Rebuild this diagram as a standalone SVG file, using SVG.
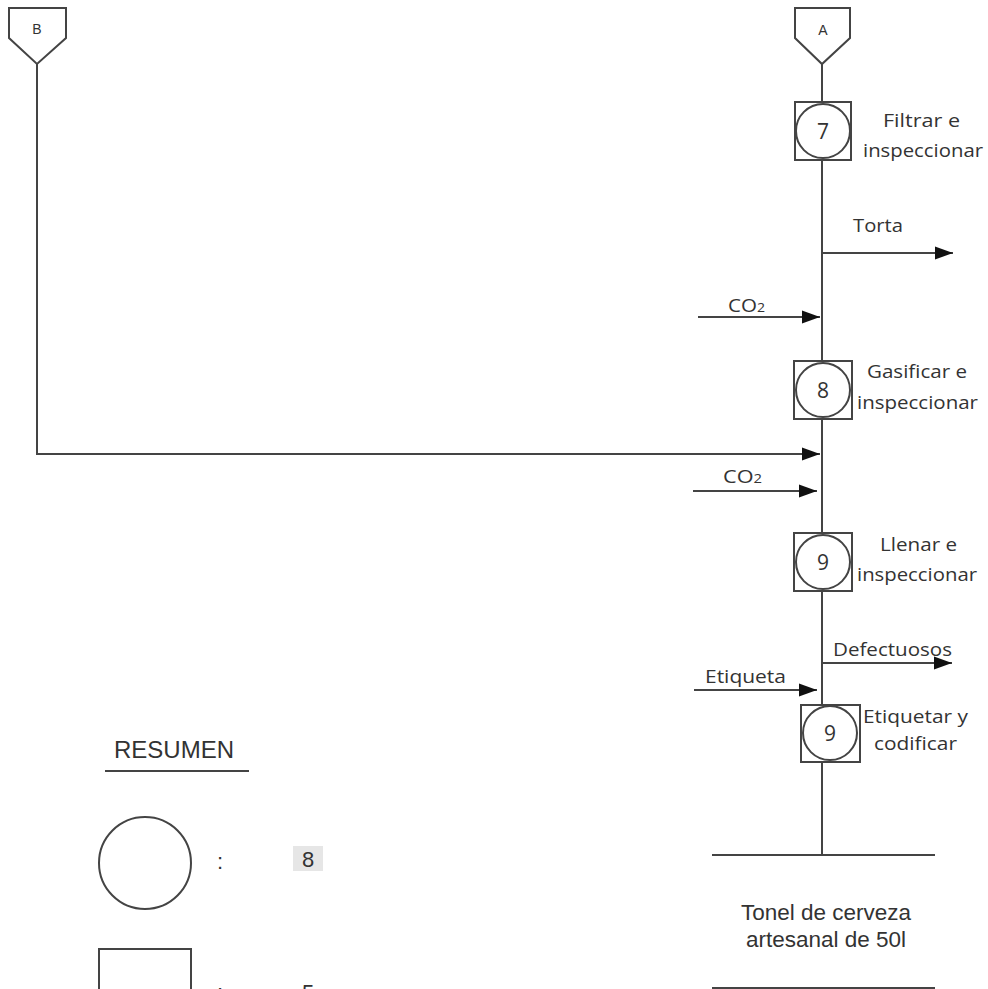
<svg xmlns="http://www.w3.org/2000/svg" width="988" height="989" viewBox="0 0 988 989">
<defs>
<marker id="arr" markerUnits="userSpaceOnUse" markerWidth="20" markerHeight="14" viewBox="0 0 20 14" refX="18" refY="7" orient="auto">
<path d="M0,0.5 L18,7 L0,13.5 Z" fill="#111"/>
</marker>
<style>
.ln{stroke:#444;stroke-width:2;fill:none}
.sh{stroke:#444;stroke-width:2;fill:#fff}
.lbl{font-family:"Open Sans","Noto Sans",sans-serif;font-size:19px;fill:#333}
.num{font-family:"Open Sans","Noto Sans",sans-serif;font-size:21px;fill:#333;text-anchor:middle}
.ar{font-family:"Liberation Sans",Arial,sans-serif;fill:#333}
</style>
</defs>
<rect width="988" height="989" fill="#fff"/>

<g id="connectors">
<line class="ln" x1="822" y1="64" x2="822" y2="102"/>
<line class="ln" x1="822" y1="160" x2="822" y2="361"/>
<line class="ln" x1="822" y1="419" x2="822" y2="533"/>
<line class="ln" x1="822" y1="591" x2="822" y2="705"/>
<line class="ln" x1="822" y1="762" x2="822" y2="855"/>
<path class="ln" d="M37,64 L37,454 L820,454" marker-end="url(#arr)"/>
<line class="ln" x1="822" y1="253" x2="953" y2="253" marker-end="url(#arr)"/>
<line class="ln" x1="698" y1="317" x2="820" y2="317" marker-end="url(#arr)"/>
<line class="ln" x1="693" y1="491" x2="817" y2="491" marker-end="url(#arr)"/>
<line class="ln" x1="822" y1="663" x2="952" y2="663" marker-end="url(#arr)"/>
<line class="ln" x1="694" y1="690" x2="817" y2="690" marker-end="url(#arr)"/>
<text class="lbl" x="853" y="232" textLength="50" lengthAdjust="spacingAndGlyphs">Torta</text>
<text class="lbl" x="728" y="312" textLength="37" lengthAdjust="spacingAndGlyphs">CO<tspan font-size="13">2</tspan></text>
<text class="lbl" x="723" y="483" textLength="39" lengthAdjust="spacingAndGlyphs">CO<tspan font-size="13">2</tspan></text>
<text class="lbl" x="833" y="656" textLength="119" lengthAdjust="spacingAndGlyphs">Defectuosos</text>
<text class="lbl" x="705" y="683" textLength="81" lengthAdjust="spacingAndGlyphs">Etiqueta</text>
</g>

<g id="conn-A">
<path class="sh" d="M795,8 L850,8 L850,38 L822,64 L795,38 Z"/>
<text class="ar" x="823" y="35" font-size="14" text-anchor="middle">A</text>
</g>
<g id="conn-B">
<path class="sh" d="M9,8 L66,8 L66,38 L37,64 L9,38 Z"/>
<text class="ar" x="37" y="34" font-size="14" text-anchor="middle">B</text>
</g>

<g id="node-7">
<rect class="sh" x="795" y="102" width="56" height="58"/>
<circle class="sh" cx="823" cy="131" r="27"/>
<text class="num" x="823" y="139">7</text>
<text class="lbl" x="883" y="127" textLength="77" lengthAdjust="spacingAndGlyphs">Filtrar e</text>
<text class="lbl" x="863" y="157" textLength="120" lengthAdjust="spacingAndGlyphs">inspeccionar</text>
</g>

<g id="node-8">
<rect class="sh" x="794" y="361" width="58" height="58"/>
<circle class="sh" cx="823" cy="390" r="27"/>
<text class="num" x="823" y="398">8</text>
<text class="lbl" x="867" y="378" textLength="100" lengthAdjust="spacingAndGlyphs">Gasificar e</text>
<text class="lbl" x="857" y="409" textLength="121" lengthAdjust="spacingAndGlyphs">inspeccionar</text>
</g>

<g id="node-9a">
<rect class="sh" x="794" y="533" width="58" height="58"/>
<circle class="sh" cx="823" cy="562" r="27"/>
<text class="num" x="823" y="570">9</text>
<text class="lbl" x="880" y="551" textLength="77" lengthAdjust="spacingAndGlyphs">Llenar e</text>
<text class="lbl" x="857" y="581" textLength="120" lengthAdjust="spacingAndGlyphs">inspeccionar</text>
</g>

<g id="node-9b">
<rect class="sh" x="801" y="705" width="59" height="57"/>
<circle class="sh" cx="830" cy="733" r="27"/>
<text class="num" x="830" y="741">9</text>
<text class="lbl" x="863" y="723" textLength="105" lengthAdjust="spacingAndGlyphs">Etiquetar y</text>
<text class="lbl" x="874" y="750" textLength="83" lengthAdjust="spacingAndGlyphs">codificar</text>
</g>

<g id="tonel">
<line class="ln" x1="712" y1="855" x2="935" y2="855"/>
<text class="ar" x="826" y="920" font-size="22.5" text-anchor="middle">Tonel de cerveza</text>
<text class="ar" x="826" y="947" font-size="22.5" text-anchor="middle">artesanal de 50l</text>
<line class="ln" x1="712" y1="988" x2="935" y2="988"/>
</g>

<g id="resumen">
<text class="ar" x="114" y="758" font-size="24">RESUMEN</text>
<line class="ln" x1="105" y1="771" x2="249" y2="771"/>
<circle class="ln" cx="145" cy="863" r="46"/>
<text class="ar" x="220" y="869" font-size="22" text-anchor="middle">:</text>
<rect x="293" y="846" width="30" height="25" fill="#e6e6e6"/>
<text class="ar" x="308" y="867" font-size="22" text-anchor="middle">8</text>
<rect class="ln" x="99" y="949" width="92" height="80"/>
<text class="ar" x="220" y="1000" font-size="22" text-anchor="middle">:</text>
<text class="ar" x="308" y="1000" font-size="22" text-anchor="middle">5</text>
</g>
</svg>
